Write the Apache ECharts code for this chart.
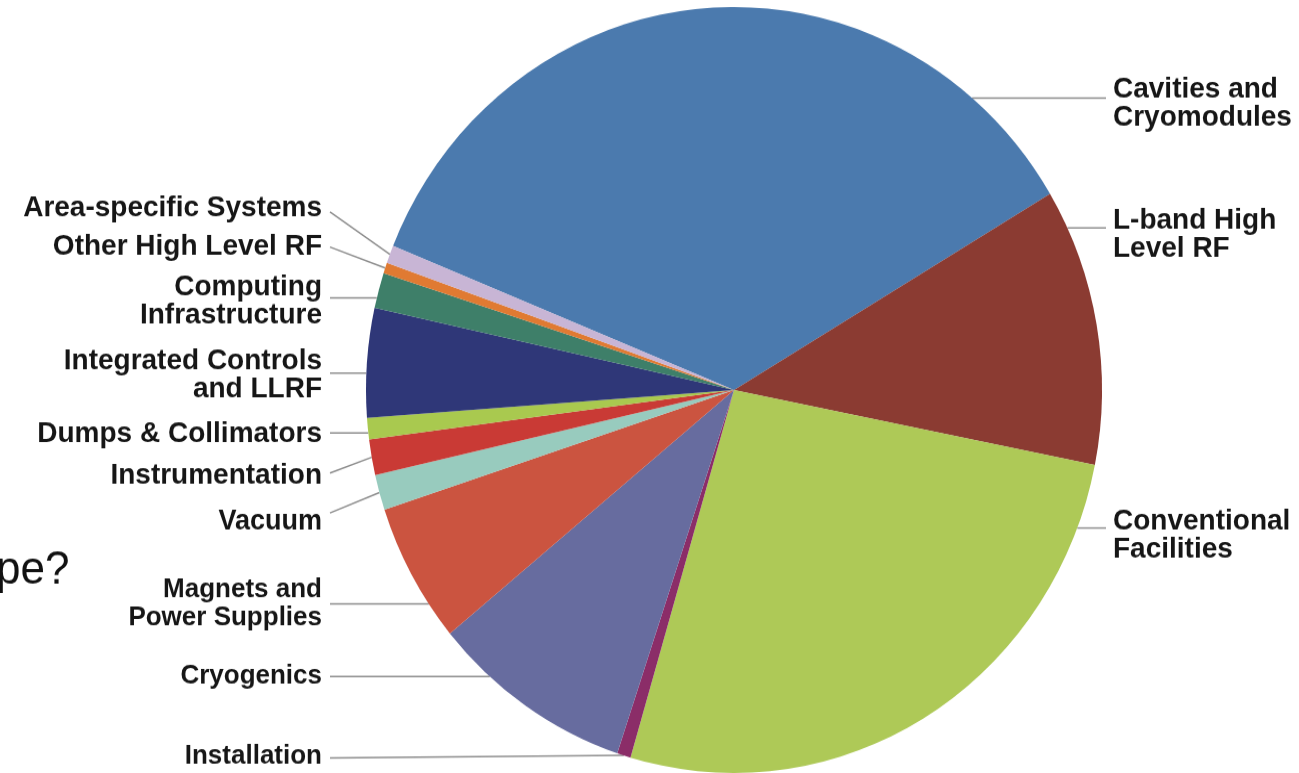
<!DOCTYPE html>
<html>
<head>
<meta charset="utf-8">
<script src="https://cdn.jsdelivr.net/npm/echarts@6/dist/echarts.min.js"></script>
<style>
  html, body { margin: 0; padding: 0; background: #fff; overflow: hidden; width: 1299px; height: 773px; }
  /* the pie is drawn slightly taller than wide */
  #chart { width: 1299px; height: 773px; transform: scaleY(1.0408); transform-origin: 0 390px; }
</style>
</head>
<body>
<div id="chart"></div>
<script>
// Cost breakdown, share of total (%), clockwise from "Cavities and Cryomodules"
const categories = [
  'Cavities and\nCryomodules',
  'L-band High\nLevel RF',
  'Conventional\nFacilities',
  'Installation',
  'Cryogenics',
  'Magnets and\nPower Supplies',
  'Vacuum',
  'Instrumentation',
  'Dumps & Collimators',
  'Integrated Controls\nand LLRF',
  'Computing\nInfrastructure',
  'Other High Level RF',
  'Area-specific Systems'
];
const shares = [35.3, 11.7, 26.4, 0.6, 8.9, 5.9, 1.5, 1.5, 0.9, 4.6, 1.5, 0.45, 0.75];
const colors = [
  '#4b7aae', '#8b3b32', '#aec957', '#8b2d68', '#676c9f', '#cb5440', '#98cbbe',
  '#c93a35', '#a9c94f', '#2f3778', '#3e7f69', '#e07a32', '#c8b5d5'
];

// Geometry of the pie and label placement (page pixels)
const STRETCH = 1.0408;
const CX = 734, CY = 390, R = 368;
const START = 157.9;
const toChartY = y => CY + (y - CY) / STRETCH;

// side, text centre y, leader y, leader style ('h' = horizontal to rim, 'm' = to slice middle), font size
const spots = [
  { side: 'R', ty: 104,   ly: 98,    kind: 'h', fs: 28 },
  { side: 'R', ty: 234.5, ly: 228,   kind: 'h', fs: 28 },
  { side: 'R', ty: 535,   ly: 528,   kind: 'h', fs: 28 },
  { side: 'L', ty: 756,   ly: 758,   kind: 'm', fs: 26 },
  { side: 'L', ty: 676,   ly: 676.5, kind: 'h', fs: 26 },
  { side: 'L', ty: 604,   ly: 604,   kind: 'h', fs: 26 },
  { side: 'L', ty: 522,   ly: 513,   kind: 'm', fs: 27 },
  { side: 'L', ty: 476,   ly: 473,   kind: 'm', fs: 28 },
  { side: 'L', ty: 434,   ly: 433,   kind: 'h', fs: 28 },
  { side: 'L', ty: 375,   ly: 373,   kind: 'h', fs: 28 },
  { side: 'L', ty: 301,   ly: 298,   kind: 'h', fs: 28 },
  { side: 'L', ty: 246.5, ly: 247,   kind: 'm', fs: 28 },
  { side: 'L', ty: 208.5, ly: 212,   kind: 'm', fs: 28 }
];

const total = shares.reduce((a, b) => a + b, 0);
function midAngle(i) {
  let before = 0;
  for (let k = 0; k < i; k++) before += shares[k];
  return (START - (before + shares[i] / 2) / total * 360) * Math.PI / 180;
}

const chart = echarts.init(document.getElementById('chart'), null, { renderer: 'canvas' });

chart.setOption({
  animation: false,
  backgroundColor: '#ffffff',
  graphic: [{
    type: 'text',
    left: -4,
    top: toChartY(548),
    style: {
      text: 'pe?',
      font: '44px "Liberation Sans", Arial, Helvetica, sans-serif',
      fill: '#111'
    }
  }],
  series: [{
    type: 'pie',
    center: [CX, CY],
    radius: [0, R],
    startAngle: START,
    clockwise: true,
    avoidLabelOverlap: false,
    minShowLabelAngle: 0,
    data: categories.map((name, i) => ({
      name: name,
      value: shares[i],
      itemStyle: { color: colors[i] },
      label: { fontSize: spots[i].fs }
    })),
    itemStyle: { borderWidth: 0 },
    emphasis: { disabled: true },
    label: {
      show: true,
      position: 'outside',
      formatter: '{b}',
      color: '#161616',
      fontFamily: '"Liberation Sans", Arial, Helvetica, sans-serif',
      fontWeight: 'bold',
      fontSize: 28,
      lineHeight: 27
    },
    labelLine: {
      show: true,
      lineStyle: { color: '#8e8e8e', width: 1.5 }
    },
    labelLayout: function (p) {
      const i = p.dataIndex;
      const s = spots[i];
      const left = s.side === 'L';
      const textY = toChartY(s.ty);
      const lineY = toChartY(s.ly);
      let anchor;
      if (s.kind === 'h') {
        const dy = lineY - CY;
        const dx = Math.sqrt(Math.max(0, R * R - dy * dy));
        anchor = [left ? CX - dx : CX + dx, lineY];
      } else {
        const a = midAngle(i);
        anchor = [CX + R * Math.cos(a), CY - R * Math.sin(a)];
      }
      const end = [left ? 330 : 1106, lineY];
      return {
        x: left ? 322 : 1113,
        y: textY,
        align: left ? 'right' : 'left',
        verticalAlign: 'middle',
        labelLinePoints: [anchor, anchor, end]
      };
    }
  }]
});
</script>
</body>
</html>
